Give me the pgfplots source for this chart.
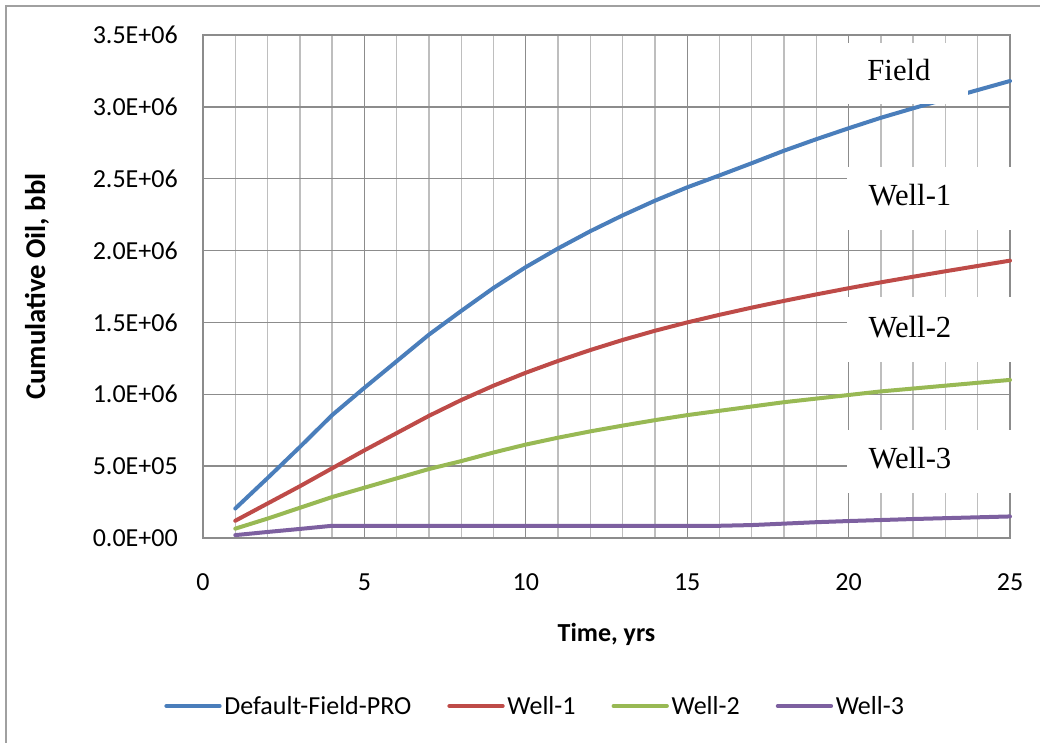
\documentclass[border=0pt]{standalone}
\usepackage{pgfplots}
\pgfplotsset{compat=1.18}
\usepackage{fontspec}
\setmainfont{Carlito}
\newfontfamily\serifface{Liberation Serif}
\definecolor{cblue}{HTML}{4A7EBB}
\definecolor{cred}{HTML}{BE4B48}
\definecolor{cgreen}{HTML}{98B954}
\definecolor{cpurple}{HTML}{7D60A0}
\definecolor{gmajor}{HTML}{8C8C8C}
\definecolor{gminor}{HTML}{BEBEBE}
\definecolor{frame}{HTML}{A0A0A0}
\begin{document}
\begin{tikzpicture}[font=\fontsize{19.5bp}{23bp}\selectfont]
\useasboundingbox (0,0) rectangle (780bp,557.25bp);
\draw[frame,line width=1.6bp] (4.5bp,0) -- (4.5bp,553bp) -- (780bp,553bp);
\begin{axis}[
  at={(152.25bp,153.75bp)}, anchor=south west,
  width=605.25bp, height=377.25bp, scale only axis,
  xmin=0, xmax=25, ymin=0, ymax=3.5e6,
  xtick={0,5,10,15,20,25},
  xticklabels={0,5,10,15,20,25},
  minor x tick num=4,
  ytick={0,5e5,1e6,1.5e6,2e6,2.5e6,3e6,3.5e6},
  yticklabels={0.0E+00,5.0E+05,1.0E+06,1.5E+06,2.0E+06,2.5E+06,3.0E+06,3.5E+06},
  scaled y ticks=false,
  xmajorgrids, ymajorgrids, xminorgrids,
  major grid style={gmajor,line width=1bp},
  minor grid style={gminor,line width=1bp},
  major tick length=0pt, minor tick length=0pt,
  axis line style={gmajor,line width=1bp},
  tick label style={font=\fontsize{19.5bp}{23bp}\selectfont},
  yticklabel style={anchor=east,inner sep=0pt,xshift=-18.75bp},
  xticklabel style={anchor=center,inner sep=0pt,yshift=-33bp},
  xlabel={\bfseries Time, yrs},
  ylabel={\bfseries Cumulative Oil, bbl},
  every axis x label/.style={at={(rel axis cs:0.5,-0.1909)},anchor=center},
  every axis y label/.style={at={(rel axis cs:-0.2057,0.5)},rotate=90,anchor=center,
    font=\fontsize{21.5bp}{25bp}\selectfont},
  clip=false,
  legend columns=4,
  legend style={draw=none, fill=none, at={(rel axis cs:0.412,-0.334)}, anchor=center,
    font=\fontsize{19.5bp}{23bp}\selectfont,
    nodes={inner sep=2bp,anchor=west},
    /tikz/every odd column/.append style={column sep=0bp},
    /tikz/every even column/.append style={column sep=25bp}},
  legend image code/.code={\draw[#1,line cap=round] (0bp,0bp) -- (40bp,0bp);},
  every axis plot/.append style={line width=3bp, line join=round, line cap=round},
]
\addplot[cblue] coordinates {
(1,205000)(2,417000)(3,633000)(4,855000)(5,1045000)(6,1230000)(7,1415000)(8,1580000)(9,1740000)(10,1885000)(11,2015000)(12,2135000)(13,2245000)(14,2347000)(15,2440000)(16,2523000)(17,2608000)(18,2695000)(19,2775000)(20,2851000)(21,2924000)(22,2990000)(23,3054000)(24,3117000)(25,3180000)};
\addlegendentry{Default-Field-PRO}
\addplot[cred] coordinates {
(1,120000)(2,240000)(3,360000)(4,485000)(5,610000)(6,730000)(7,850000)(8,960000)(9,1060000)(10,1150000)(11,1232000)(12,1308000)(13,1378000)(14,1442000)(15,1500000)(16,1553000)(17,1603000)(18,1650000)(19,1695000)(20,1738000)(21,1779000)(22,1818000)(23,1856000)(24,1893000)(25,1930000)};
\addlegendentry{Well-1}
\addplot[cgreen] coordinates {
(1,65000)(2,135000)(3,210000)(4,285000)(5,350000)(6,415000)(7,480000)(8,535000)(9,595000)(10,650000)(11,698000)(12,742000)(13,782000)(14,820000)(15,855000)(16,885000)(17,915000)(18,945000)(19,970000)(20,995000)(21,1020000)(22,1040000)(23,1060000)(24,1080000)(25,1100000)};
\addlegendentry{Well-2}
\addplot[cpurple] coordinates {
(1,20000)(2,42000)(3,63000)(4,85000)(5,85000)(6,85000)(7,85000)(8,85000)(9,85000)(10,85000)(11,85000)(12,85000)(13,85000)(14,85000)(15,85000)(16,85000)(17,90000)(18,100000)(19,110000)(20,118000)(21,125000)(22,132000)(23,138000)(24,144000)(25,150000)};
\addlegendentry{Well-3}
\fill[white] (axis cs:19.18,3.02e6) rectangle (axis cs:23.70,3.445e6);
\fill[white] (axis cs:19.95,2.143e6) rectangle (axis cs:25.09,2.581e6);
\fill[white] (axis cs:19.95,1.2246e6) rectangle (axis cs:25.09,1.677e6);
\fill[white] (axis cs:19.95,0.313e6) rectangle (axis cs:25.09,0.751e6);
\node[font=\serifface\fontsize{23bp}{27bp}\selectfont] at (axis cs:21.56,3.256e6) {Field};
\node[font=\serifface\fontsize{23bp}{27bp}\selectfont] at (axis cs:21.90,2.387e6) {Well-1};
\node[font=\serifface\fontsize{23bp}{27bp}\selectfont] at (axis cs:21.90,1.468e6) {Well-2};
\node[font=\serifface\fontsize{23bp}{27bp}\selectfont] at (axis cs:21.90,0.557e6) {Well-3};
\end{axis}
\end{tikzpicture}
\end{document}
